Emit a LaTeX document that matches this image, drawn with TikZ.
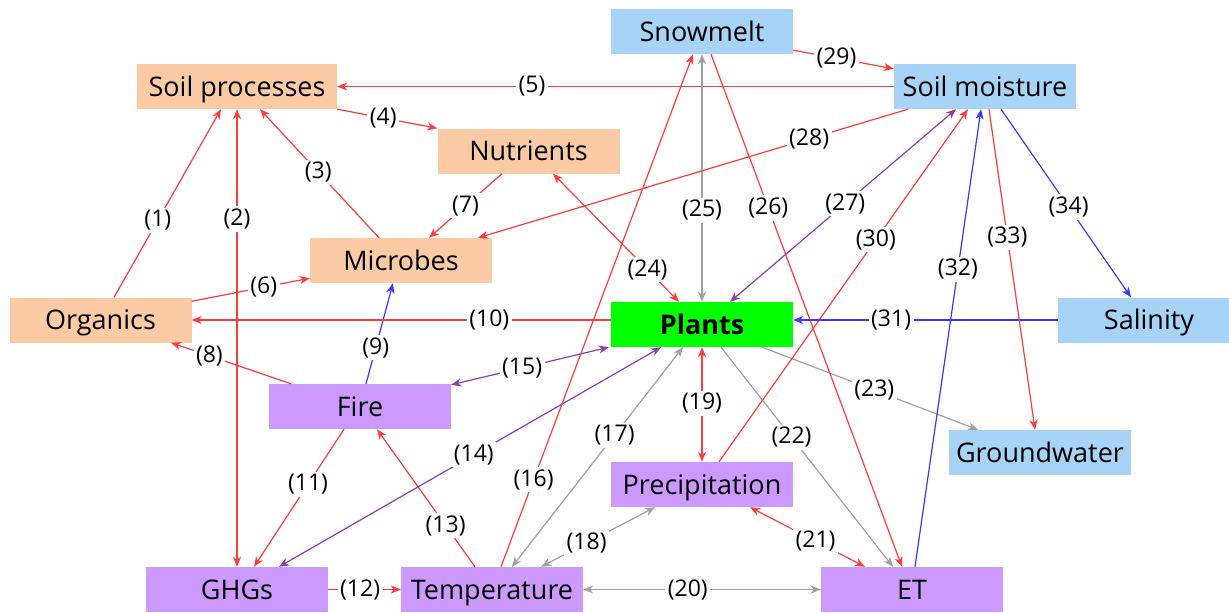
\documentclass[tikz,border=0pt]{standalone}
\usepackage{fontspec}
\setmainfont{Open Sans}
\usetikzlibrary{arrows.meta,calc}

\definecolor{peach}{HTML}{FBCBA6}
\definecolor{sky}{HTML}{A6D3F6}
\definecolor{lilac}{HTML}{CC99FF}
\definecolor{leaf}{HTML}{00FF00}
\definecolor{ered}{HTML}{FF3B3B}
\definecolor{eblue}{HTML}{3838FF}
\definecolor{epurple}{HTML}{8C3DA8}
\definecolor{egray}{HTML}{A0A0A0}

\begin{document}
\begin{tikzpicture}[x=1pt,y=-1pt,
  box/.style={minimum width=182pt, minimum height=45pt, inner sep=0pt,
              text height=19pt, text depth=0pt,
              font=\fontsize{27}{30}\selectfont},
  lbl/.style={fill=white, inner sep=2.5pt, font=\fontsize{23}{26}\selectfont},
  conn/.style={line width=1.2pt},
  rd/.style={conn, draw=ered},
  bl/.style={conn, draw=eblue},
  pu/.style={conn, draw=epurple},
  gy/.style={conn, draw=egray},
  >={Stealth[length=10pt,width=8pt,inset=3pt]}]
\useasboundingbox (0,0) rectangle (1229,613);

% variables
\node[box, fill=peach, minimum width=200pt] (sp) at (237,86.5) {Soil processes};
\node[box, fill=peach] (nut) at (528.5,151) {Nutrients};
\node[box, fill=peach] (mic) at (401,260.5) {Microbes};
\node[box, fill=peach] (org) at (100.5,320) {Organics};
\node[box, fill=sky] (sm) at (702,31.5) {Snowmelt};
\node[box, fill=sky] (smo) at (985,86.5) {Soil moisture};
\node[box, fill=sky] (sal) at (1149,320) {Salinity};
\node[box, fill=sky] (gw) at (1040,452.5) {Groundwater};
\node[box, fill=leaf, font=\fontsize{27}{30}\selectfont\bfseries] (pl) at (702,324.5) {Plants};
\node[box, fill=lilac] (fire) at (360,406.5) {Fire};
\node[box, fill=lilac] (pre) at (702,484.5) {Precipitation};
\node[box, fill=lilac] (ghg) at (237,589.5) {GHGs};
\node[box, fill=lilac] (tem) at (492,589.5) {Temperature};
\node[box, fill=lilac] (et) at (912,589.5) {ET};

% interactions
\draw[rd,->] ([xshift=13.5pt]org.north) -- node[lbl,pos=0.41]{(1)} ([xshift=-16pt]sp.south);
\draw[rd,<->] (sp.south) -- node[lbl,pos=0.24]{(2)} (ghg.north);
\draw[rd,->] ([xshift=-22pt]mic.north) -- node[lbl,pos=0.51]{(3)} ([xshift=23pt]sp.south);
\draw[rd,->] (sp.south east) -- node[lbl,pos=0.46]{(4)} (nut.north west);
\draw[rd,->] (smo.west) -- node[lbl,pos=0.65]{(5)} (sp.east);
\draw[rd,->] ([yshift=-4pt]org.north east) -- node[lbl,pos=0.61]{(6)} ([yshift=5pt]mic.south west);
\draw[rd,->] ([xshift=-26.5pt]nut.south) -- node[lbl,pos=0.5]{(7)} ([xshift=28pt]mic.north);
\draw[rd,->] ([xshift=-69pt]fire.north) -- node[lbl,pos=0.68]{(8)} ([xshift=70.5pt]org.south);
\draw[bl,->] ([xshift=6pt]fire.north) -- node[lbl,pos=0.36]{(9)} ([xshift=-8pt]mic.south);
\draw[rd,->] (org.east -| pl.west) -- node[lbl,pos=0.29]{(10)} (org.east);
\draw[rd,->] ([xshift=-16pt]fire.south) -- node[lbl,pos=0.40]{(11)} ([xshift=17pt]ghg.north);
\draw[rd,->] (ghg.east) -- node[lbl,pos=0.44]{(12)} (tem.west);
\draw[rd,->] ([xshift=-17pt]tem.north) -- node[lbl,pos=0.30]{(13)} ([xshift=17pt]fire.south);
\draw[pu,<->] ([xshift=42pt]ghg.north) -- node[lbl,pos=0.51]{(14)} ([xshift=-41pt]pl.south);
\draw[pu,<->] ([yshift=-1pt]fire.north east) -- node[lbl,pos=0.45]{(15)} ([xshift=-2pt]pl.south west);
\draw[rd,->] ([xshift=9pt]tem.north) -- node[lbl,pos=0.17]{(16)} ([xshift=-9pt]sm.south);
\draw[gy,<->] ([xshift=-19pt]pl.south) -- node[lbl,pos=0.40]{(17)} ([xshift=20pt]tem.north);
\draw[gy,<->] ([xshift=-47pt]pre.south) -- node[lbl,pos=0.60]{(18)} ([xshift=49pt]tem.north);
\draw[rd,<->] (pl.south) -- node[lbl,pos=0.49]{(19)} (pre.north);
\draw[gy,<->] (tem.east) -- node[lbl,pos=0.44]{(20)} (et.west);
\draw[rd,<->] ([xshift=48pt]pre.south) -- node[lbl,pos=0.57]{(21)} ([xshift=-47pt]et.north);
\draw[gy,->] ([xshift=19pt]pl.south) -- node[lbl,pos=0.41]{(22)} ([xshift=-19pt]et.north);
\draw[gy,->] ([xshift=60pt]pl.south) -- node[lbl,pos=0.52]{(23)} ([xshift=-62pt]gw.north);
\draw[rd,<->] ([xshift=24.5pt]nut.south) -- node[lbl,pos=0.75]{(24)} ([xshift=-23pt]pl.north);
\draw[gy,<->] (sm.south) -- node[lbl,pos=0.63]{(25)} (pl.north);
\draw[rd,->] ([xshift=9pt]sm.south) -- node[lbl,pos=0.30]{(26)} ([xshift=-10pt]et.north);
\draw[pu,<->] ([xshift=28pt]pl.north) -- node[lbl,pos=0.51]{(27)} ([xshift=-29pt]smo.south);
\draw[rd,->] ([xshift=-77pt]smo.south) -- node[lbl,pos=0.23]{(28)} ([xshift=77pt]mic.north);
\draw[rd,->] ([yshift=4pt]sm.south east) -- node[lbl,pos=0.43]{(29)} ([yshift=-5pt]smo.north west);
\draw[rd,->] ([xshift=17pt]pre.north) -- node[lbl,pos=0.63]{(30)} ([xshift=-17pt]smo.south);
\draw[bl,->] (sal.west) -- node[lbl,pos=0.63]{(31)} (sal.west -| pl.east);
\draw[bl,->] ([xshift=3pt]et.north) -- node[lbl,pos=0.65]{(32)} ([xshift=-4pt]smo.south);
\draw[rd,->] ([xshift=4pt]smo.south) -- node[lbl,pos=0.40]{(33)} ([xshift=-5pt]gw.north);
\draw[bl,->] ([xshift=16pt]smo.south) -- node[lbl,pos=0.52]{(34)} ([xshift=-18pt]sal.north);
\end{tikzpicture}
\end{document}
